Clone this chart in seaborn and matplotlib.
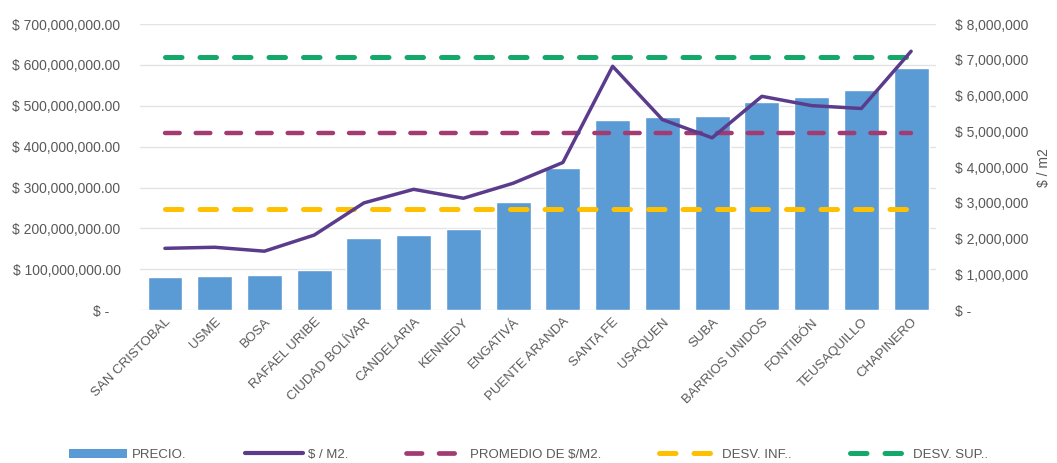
"""precio de vivienda y $/m2 por localidad"""
import matplotlib.pyplot as plt
import matplotlib.ticker as mticker
import pandas as pd
import seaborn as sns
from matplotlib.lines import Line2D
from matplotlib.patches import Patch

localidades = [
    "SAN CRISTOBAL", "USME", "BOSA", "RAFAEL URIBE", "CIUDAD BOLÍVAR",
    "CANDELARIA", "KENNEDY", "ENGATIVÁ", "PUENTE ARANDA", "SANTA FE",
    "USAQUEN", "SUBA", "BARRIOS UNIDOS", "FONTIBÓN", "TEUSAQUILLO", "CHAPINERO",
]
precio = [
    82e6, 84e6, 85e6, 98e6, 176e6, 183e6, 198e6, 264e6,
    347e6, 465e6, 472e6, 476e6, 510e6, 522e6, 538e6, 593e6,
]
precio_m2 = [
    1.73e6, 1.76e6, 1.65e6, 2.10e6, 3.00e6, 3.38e6, 3.13e6, 3.55e6,
    4.13e6, 6.82e6, 5.33e6, 4.82e6, 5.98e6, 5.72e6, 5.64e6, 7.24e6,
]
promedio_m2 = 4.95e6
desv_inf = 2.83e6
desv_sup = 7.07e6

BLUE = "#5B9BD5"
PURPLE = "#5B3C8C"
MAGENTA = "#A23B72"
YELLOW = "#FFC000"
GREEN = "#14A86B"
GREY = "#595959"

sns.set_style("white")
plt.rcParams["font.family"] = ["Liberation Sans", "DejaVu Sans"]

df = pd.DataFrame({"localidad": localidades, "precio": precio, "m2": precio_m2})
n = len(df)

fig = plt.figure(figsize=(10.57, 4.63), dpi=100)
ax = fig.add_axes([0.1325, 0.33, 0.753, 0.618])

sns.barplot(data=df, x="localidad", y="precio", color=BLUE, saturation=1,
            width=0.7, ax=ax, zorder=2)
ax.set_ylim(0, 700e6)
ax.set_xlim(-0.5, n - 0.5)
ax.yaxis.set_major_locator(mticker.MultipleLocator(100e6))
ax.yaxis.set_major_formatter(mticker.FuncFormatter(
    lambda v, p: "$ -   " if v == 0 else f"$ {v:,.2f}"))
ax.grid(axis="y", color="#E3E3E3", lw=1)
ax.set_axisbelow(True)
ax.set_xlabel("")
ax.set_ylabel("")
ax.tick_params(axis="y", length=0, pad=14, labelsize=10, labelcolor=GREY)
ax.tick_params(axis="x", length=0, pad=4, labelsize=9.5, labelcolor=GREY)
plt.setp(ax.get_xticklabels(), rotation=45, ha="right", rotation_mode="anchor")
sns.despine(ax=ax, left=True, bottom=True)

ax2 = ax.twinx()
dash = (0, (3.3, 3.6))
for value, color, lw in [(desv_sup, GREEN, 3.6), (promedio_m2, MAGENTA, 3.2),
                         (desv_inf, YELLOW, 3.6)]:
    sns.lineplot(x=localidades, y=[value] * n, ax=ax2, color=color, lw=lw,
                 linestyle=dash, dash_capstyle="round", sort=False)
sns.lineplot(data=df, x="localidad", y="m2", ax=ax2, color=PURPLE, lw=2.5,
             sort=False)
ax2.set_ylim(0, 8e6)
ax2.set_xlim(-0.5, n - 0.5)
ax2.yaxis.set_major_locator(mticker.MultipleLocator(1e6))
ax2.yaxis.set_major_formatter(mticker.FuncFormatter(
    lambda v, p: "$ -" if v == 0 else f"$ {v:,.0f}"))
ax2.tick_params(axis="y", length=0, pad=14, labelsize=10, labelcolor=GREY)
ax2.set_ylabel("$ / m2", color=GREY, fontsize=10, labelpad=6)
ax2.set_xlabel("")
for s in ax2.spines.values():
    s.set_visible(False)

handles = [
    Patch(facecolor=BLUE, edgecolor="none"),
    Line2D([], [], color=PURPLE, lw=3),
    Line2D([], [], color=MAGENTA, lw=3.4, linestyle=dash, dash_capstyle="round"),
    Line2D([], [], color=YELLOW, lw=3.6, linestyle=dash, dash_capstyle="round"),
    Line2D([], [], color=GREEN, lw=3.6, linestyle=dash, dash_capstyle="round"),
]
labels = ["PRECIO.", "$ / M2.", "PROMEDIO DE $/M2.", "DESV. INF..", "DESV. SUP.."]
leg = fig.legend(handles, labels, loc="center", bbox_to_anchor=(0.5, 0.018),
                 ncol=5, frameon=False, fontsize=9.5, handlelength=4.4,
                 handletextpad=0.4, columnspacing=4.4, borderpad=0)
for t in leg.get_texts():
    t.set_color(GREY)

fig.savefig("out.png", dpi=100)
